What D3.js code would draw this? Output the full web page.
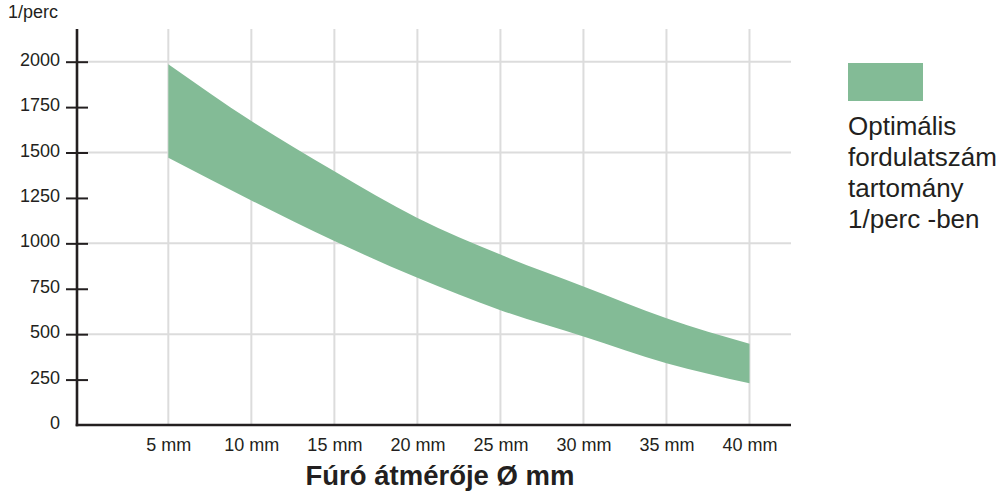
<!DOCTYPE html>
<html>
<head>
<meta charset="utf-8">
<script src="https://cdn.jsdelivr.net/npm/d3@7"></script>
<style>
  body { margin: 0; background: #fff; }
  text { font-family: "Liberation Sans", Arial, sans-serif; fill: #231f20; }
</style>
</head>
<body>
<svg id="chart" width="1004" height="492"></svg>
<script>
// Données du graphique
const diametres = [5, 10, 15, 20, 25, 30, 35, 40];
const tickLabelsX = ["5 mm", "10 mm", "15 mm", "20 mm", "25 mm", "30 mm", "35 mm", "40 mm"];
const ticksY = [0, 250, 500, 750, 1000, 1250, 1500, 1750, 2000];
const gridY = [500, 1000, 1500, 2000];

// limite haute de la plage (1/perc)
const hautX = [5, 10, 15, 20, 25, 30, 35, 40];
const hautY = [1986, 1673, 1397, 1140, 938, 763, 588, 447];
// limite basse de la plage
const basX = [5, 10, 15, 20, 25, 30, 35, 40];
const basY = [1471, 1236, 1013, 810, 632, 487, 340, 230];

const legendeLignes = ["Optimális", "fordulatszám", "tartomány", "1/perc -ben"];
const titreX = "Fúró átmérője Ø mm";
const uniteY = "1/perc";

const vert = "#83bb96";
const gris = "#dcdcdc";
const noir = "#231f20";

const svg = d3.select("#chart");

const x = d3.scaleLinear().domain([-0.5, 42.5]).range([77, 791]);
const y = d3.scaleLinear().domain([0, 2180]).range([425, 29]);

// Grille
svg.append("g")
    .selectAll("line")
    .data(diametres)
    .join("line")
    .attr("x1", d => x(d)).attr("x2", d => x(d))
    .attr("y1", y(2180)).attr("y2", y(0))
    .attr("stroke", gris).attr("stroke-width", 2);

svg.append("g")
    .selectAll("line")
    .data(gridY)
    .join("line")
    .attr("x1", x(-0.5)).attr("x2", x(42.5))
    .attr("y1", d => y(d)).attr("y2", d => y(d))
    .attr("stroke", gris).attr("stroke-width", 2);

// Zone optimale
const zone = d3.area()
    .curve(d3.curveMonotoneX)
    .x(d => x(d))
    .y0((d, i) => y(basY[i]))
    .y1((d, i) => y(hautY[i]));
svg.append("path")
    .attr("d", zone(hautX))
    .attr("fill", vert);

// Axe Y
const axeY = svg.append("g")
    .attr("transform", `translate(${x(-0.5)},0)`)
    .call(d3.axisLeft(y).tickValues(ticksY).tickFormat(d3.format("d")).tickSize(11));
axeY.select(".domain").remove();
axeY.selectAll(".tick line")
    .attr("x1", -11).attr("x2", 11)
    .attr("stroke", noir).attr("stroke-width", 2)
    .filter(d => d === 0).remove();
axeY.selectAll(".tick text")
    .attr("x", -17).attr("dy", "0.2em")
    .style("font-size", "18px")
    .style("font-family", "Liberation Sans, Arial, sans-serif")
    .attr("fill", noir);
svg.append("line")
    .attr("x1", x(-0.5)).attr("x2", x(-0.5))
    .attr("y1", y(2180)).attr("y2", y(0) + 1.3)
    .attr("stroke", noir).attr("stroke-width", 2.6);

// Axe X
const axeX = svg.append("g")
    .attr("transform", `translate(0,${y(0)})`)
    .call(d3.axisBottom(x).tickValues(diametres).tickSize(0).tickPadding(13)
        .tickFormat((d, i) => tickLabelsX[i]));
axeX.select(".domain").remove();
axeX.selectAll(".tick text")
    .style("font-size", "18px")
    .style("font-family", "Liberation Sans, Arial, sans-serif")
    .attr("fill", noir);
svg.append("line")
    .attr("x1", x(-0.5) - 1.3).attr("x2", x(42.5))
    .attr("y1", y(0)).attr("y2", y(0))
    .attr("stroke", noir).attr("stroke-width", 2.6);

// Titres
svg.append("text")
    .attr("x", 8).attr("y", 18)
    .style("font-size", "18px")
    .text(uniteY);

svg.append("text")
    .attr("x", 440).attr("y", 485)
    .attr("text-anchor", "middle")
    .style("font-size", "27.5px")
    .style("font-weight", "bold")
    .text(titreX);

// Légende
svg.append("rect")
    .attr("x", 848).attr("y", 63)
    .attr("width", 75).attr("height", 38)
    .attr("fill", vert);

svg.append("g")
    .selectAll("text")
    .data(legendeLignes)
    .join("text")
    .attr("x", 848)
    .attr("y", (d, i) => 135 + i * 31)
    .style("font-size", "26px")
    .text(d => d);
</script>
</body>
</html>
